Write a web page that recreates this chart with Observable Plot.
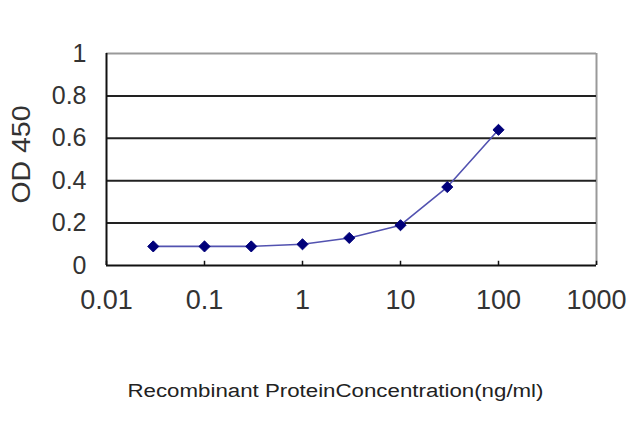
<!DOCTYPE html>
<html><head><meta charset="utf-8">
<script src="https://cdn.jsdelivr.net/npm/d3@7"></script>
<script src="https://cdn.jsdelivr.net/npm/@observablehq/plot@0.6"></script>
<style>
body{margin:0;background:#fff;}
svg{font-family:"Liberation Sans",Arial,sans-serif;}
</style></head>
<body><div id="chart"></div>
<script>
const concentrations = [0.03, 0.1, 0.3, 1, 3, 10, 30, 100];
const od450 = [0.09, 0.09, 0.09, 0.10, 0.13, 0.19, 0.37, 0.64];
const xTicks = [0.01, 0.1, 1, 10, 100, 1000];
const xTickLabels = ["0.01", "0.1", "1", "10", "100", "1000"];
const yTicks = [0, 0.2, 0.4, 0.6, 0.8, 1];
const yTickLabels = ["0", "0.2", "0.4", "0.6", "0.8", "1"];
const gridValues = [0.2, 0.4, 0.6, 0.8];
const xTitle = "Recombinant ProteinConcentration(ng/ml)";
const yTitle = "OD 450";

const data = concentrations.map((c, i) => ({c, v: od450[i]}));
const xLabelData = xTicks.map((t, i) => ({t, label: xTickLabels[i]}));
const yLabelData = yTicks.map((t, i) => ({t, label: yTickLabels[i]}));

const chart = Plot.plot({
  width: 640, height: 427,
  marginLeft: 106, marginRight: 44, marginTop: 53, marginBottom: 162,
  style: {fontFamily: "Liberation Sans, Arial, sans-serif", background: "#fff", overflow: "visible"},
  x: {type: "log", domain: [0.01, 1000], axis: null},
  y: {domain: [0, 1], axis: null},
  marks: [
    Plot.ruleY([1], {stroke: "#999", strokeWidth: 2}),
    Plot.ruleX([1000], {stroke: "#999", strokeWidth: 2}),
    Plot.ruleY(gridValues, {stroke: "#222", strokeWidth: 2}),
    Plot.ruleX(xTicks, {y1: 0, y2: 0.02, stroke: "#111", strokeWidth: 1.5}),
    Plot.text(yLabelData, {y: "t", text: "label", frameAnchor: "left", dx: -20, textAnchor: "end", fontSize: 25, fill: "#333"}),
    Plot.text(xLabelData, {x: "t", text: "label", frameAnchor: "bottom", dy: 43, fontSize: 27, fill: "#333"}),
    Plot.ruleX([0.01], {stroke: "#111", strokeWidth: 2}),
    Plot.ruleY([0], {stroke: "#111", strokeWidth: 2}),
    Plot.line(data, {x: "c", y: "v", stroke: "#5252b0", strokeWidth: 1.6}),
    Plot.dot(data, {x: "c", y: "v", symbol: "diamond2", r: 5, fill: "#00007a", stroke: "#00007a", strokeWidth: 1}),
    Plot.text([xTitle], {frameAnchor: "bottom", dy: 131, dx: -16, fontSize: 18, fill: "#222", text: d => d}),
    Plot.text([yTitle], {frameAnchor: "left", textAnchor: "middle", dx: -85, dy: -5, rotate: -90, fontSize: 25, fill: "#333", text: d => d})
  ]
});
document.getElementById("chart").appendChild(chart);
// stretch texts to the reference's extents
chart.querySelectorAll("text").forEach(t => {
  if (t.textContent === xTitle) {
    t.setAttribute("textLength", 416);
    t.setAttribute("lengthAdjust", "spacingAndGlyphs");
  } else if (t.textContent === yTitle) {
    t.setAttribute("textLength", 98);
    t.setAttribute("lengthAdjust", "spacingAndGlyphs");
  }
});
</script></body></html>
